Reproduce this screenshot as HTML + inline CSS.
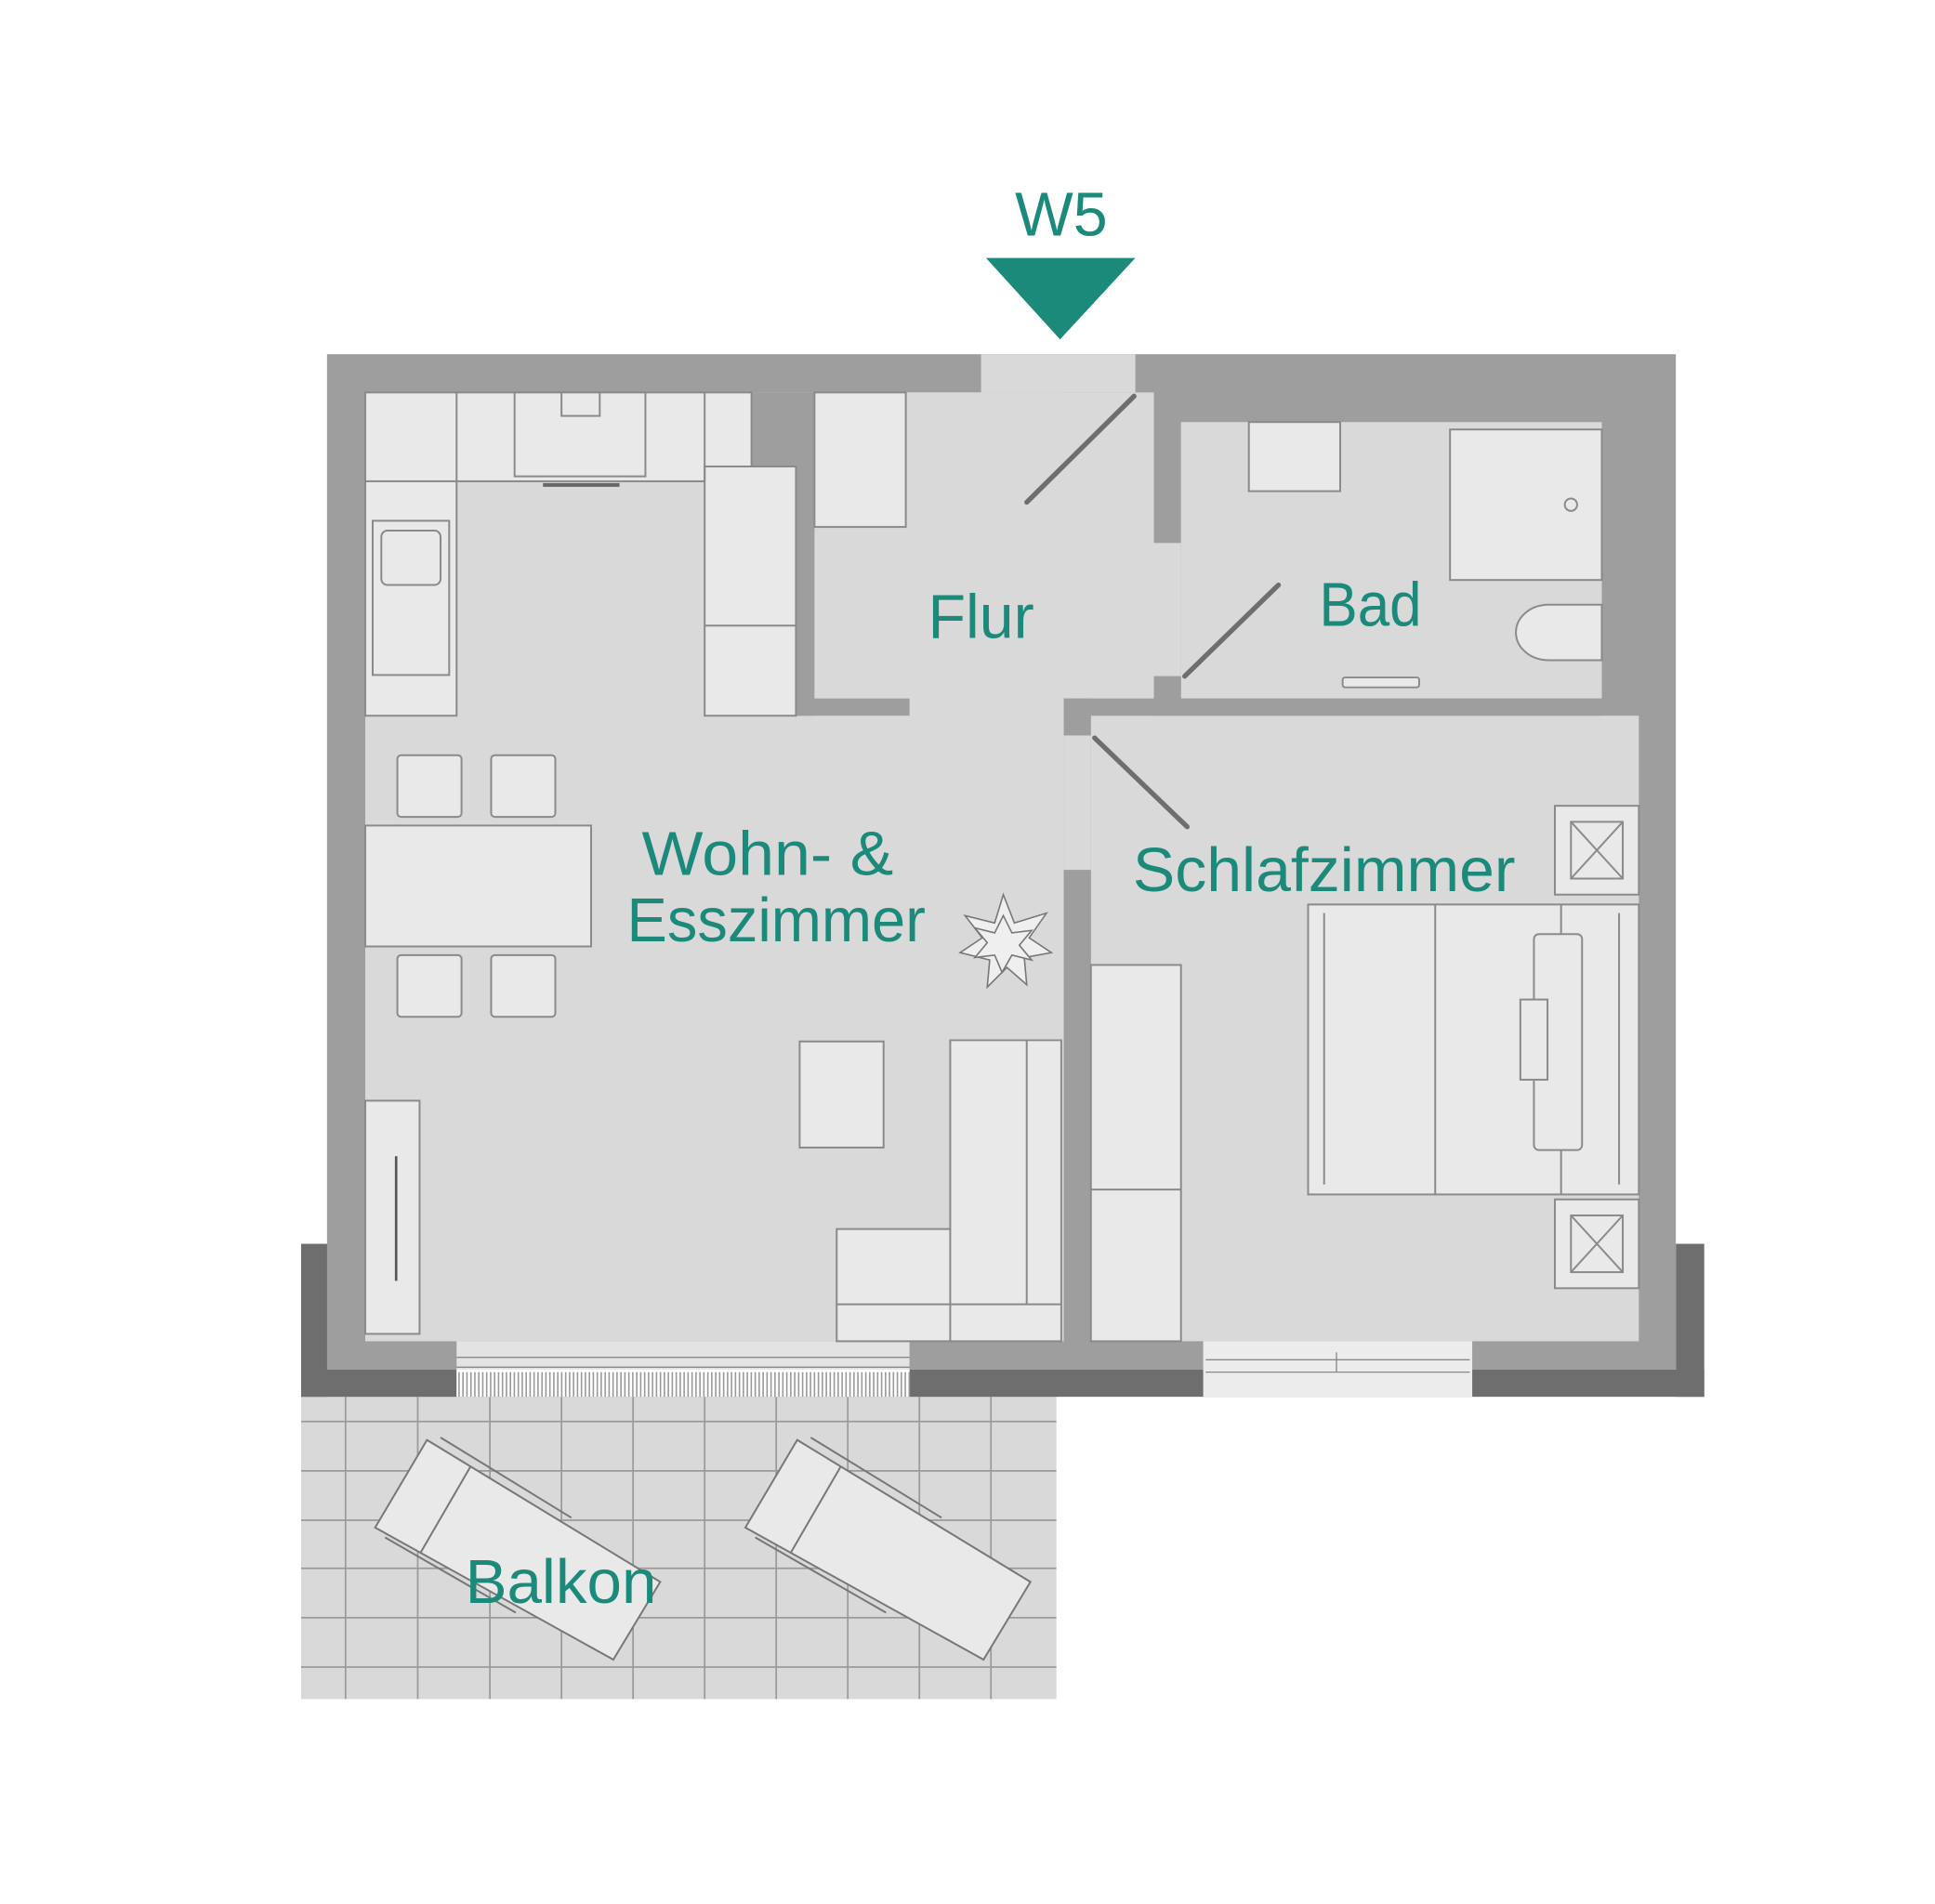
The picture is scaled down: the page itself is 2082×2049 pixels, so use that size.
<!DOCTYPE html>
<html><head><meta charset="utf-8"><style>
html,body{margin:0;padding:0;background:#fff;}
svg{display:block;}
text{font-family:"Liberation Sans","DejaVu Sans",sans-serif;fill:#1b8a7a;}
</style></head><body>
<svg width="2082" height="2049" viewBox="0 0 1568 1543" xmlns="http://www.w3.org/2000/svg">
<rect width="1568" height="1543" fill="#fff"/>
<!-- balcony -->
<rect x="244" y="1110" width="612" height="267" fill="#d9d9d9"/>
<g stroke="#9a9a9a" stroke-width="1.3">
<line x1="280" y1="1132" x2="280" y2="1377"/><line x1="338.5" y1="1132" x2="338.5" y2="1377"/>
<line x1="397" y1="1132" x2="397" y2="1377"/><line x1="455" y1="1132" x2="455" y2="1377"/>
<line x1="513" y1="1132" x2="513" y2="1377"/><line x1="571" y1="1132" x2="571" y2="1377"/>
<line x1="629" y1="1132" x2="629" y2="1377"/><line x1="687" y1="1132" x2="687" y2="1377"/>
<line x1="745" y1="1132" x2="745" y2="1377"/><line x1="803" y1="1132" x2="803" y2="1377"/>
<line x1="244" y1="1152" x2="856" y2="1152"/><line x1="244" y1="1192" x2="856" y2="1192"/>
<line x1="244" y1="1232" x2="856" y2="1232"/><line x1="244" y1="1271" x2="856" y2="1271"/>
<line x1="244" y1="1311" x2="856" y2="1311"/><line x1="244" y1="1351" x2="856" y2="1351"/>
</g>
<!-- loungers -->
<g fill="#e9e9e9" stroke="#777" stroke-width="1.5">
<polygon points="346,1167 535,1282 497,1345 304,1238"/>
<line x1="381" y1="1189" x2="341" y2="1258"/>
<line x1="357" y1="1165" x2="463" y2="1230"/>
<line x1="312" y1="1246" x2="418" y2="1307"/>
<polygon points="646,1167 835,1282 797,1345 604,1238"/>
<line x1="681" y1="1189" x2="641" y2="1258"/>
<line x1="657" y1="1165" x2="763" y2="1230"/>
<line x1="612" y1="1246" x2="718" y2="1307"/>
</g>
<!-- dark outer strips -->
<rect x="244" y="1008" width="22" height="124" fill="#6e6e6e"/>
<rect x="1358" y="1008" width="23" height="124" fill="#6e6e6e"/>
<rect x="244" y="1110" width="1137" height="22" fill="#6e6e6e"/>
<!-- main walls -->
<rect x="265" y="287" width="1093" height="823" fill="#9e9e9e"/>
<!-- floors -->
<g fill="#d9d9d9">
<rect x="296" y="318" width="566" height="769"/>
<rect x="660" y="318" width="275" height="262"/>
<rect x="795" y="287" width="125" height="31"/>
<rect x="957" y="342" width="341" height="224"/>
<rect x="935" y="440" width="22" height="108"/>
<rect x="862" y="580" width="22" height="125"/>
<rect x="884" y="580" width="444" height="507"/>
<rect x="884" y="596" width="1" height="1"/>
</g>
<!-- interior walls -->
<g fill="#9e9e9e">
<rect x="609" y="318" width="36" height="60"/>
<rect x="645" y="318" width="15" height="262"/>
<rect x="645" y="566" width="92" height="14"/>
<rect x="862" y="566" width="436" height="14"/>
<rect x="862" y="566" width="22" height="30"/>
<rect x="935" y="548" width="22" height="18"/>
<rect x="862" y="705" width="22" height="382"/>
</g>
<!-- windows -->
<rect x="370" y="1087" width="367" height="45" fill="#e3e3e3"/>
<rect x="370" y="1110" width="367" height="22" fill="#fff"/>
<g stroke="#888" stroke-width="1">
<line x1="370" y1="1100" x2="737" y2="1100"/><line x1="370" y1="1108" x2="737" y2="1108"/>
</g>
<g id="hatch" stroke="#999" stroke-width="1.2"></g>
<rect x="975" y="1087" width="218" height="45" fill="#ececec"/>
<g stroke="#888" stroke-width="1">
<line x1="977" y1="1102" x2="1191" y2="1102"/><line x1="977" y1="1112" x2="1191" y2="1112"/>
<line x1="1083" y1="1096" x2="1083" y2="1112"/>
</g>
<!-- doors -->
<g stroke="#6e6e6e" stroke-width="4" stroke-linecap="round">
<line x1="832" y1="407" x2="919" y2="321"/>
<line x1="960" y1="548" x2="1036" y2="474"/>
<line x1="887" y1="598" x2="962" y2="670"/>
</g>
<!-- furniture -->
<g fill="#e9e9e9" stroke="#8a8a8a" stroke-width="1.5">
<rect x="296" y="318" width="313" height="72"/>
<rect x="296" y="390" width="74" height="190"/>
<rect x="571" y="378" width="74" height="202"/>
<line x1="571" y1="507" x2="645" y2="507"/>
<line x1="370" y1="318" x2="370" y2="390"/>
<line x1="571" y1="318" x2="571" y2="390"/>
<rect x="417" y="318" width="106" height="68"/>
<rect x="455" y="318" width="31" height="19"/>
<rect x="302" y="422" width="62" height="125"/>
<rect x="309" y="430" width="48" height="44" rx="5"/>
<rect x="660" y="318" width="74" height="109"/>
<rect x="1012" y="342" width="74" height="56"/>
<rect x="1175" y="348" width="123" height="122"/>
<circle cx="1273" cy="409" r="5"/>
<path d="M1298,490 H1255 A26,22 0 0 0 1255,535 H1298 Z"/>
<rect x="1088" y="549" width="62" height="8" rx="2"/>
<rect x="296" y="669" width="183" height="98"/>
<rect x="322" y="612" width="52" height="50" rx="3"/>
<rect x="398" y="612" width="52" height="50" rx="3"/>
<rect x="322" y="774" width="52" height="50" rx="3"/>
<rect x="398" y="774" width="52" height="50" rx="3"/>
<rect x="296" y="892" width="44" height="189"/>
<rect x="648" y="844" width="68" height="86"/>
<path d="M770,843 H860 V1087 H678 V996 H770 Z"/>
<line x1="770" y1="996" x2="770" y2="1087"/>
<line x1="832" y1="843" x2="832" y2="1057"/>
<line x1="678" y1="1057" x2="860" y2="1057"/>
<rect x="884" y="782" width="73" height="305"/>
<line x1="884" y1="964" x2="957" y2="964"/>
<rect x="1060" y="733" width="268" height="235"/>
<line x1="1163" y1="733" x2="1163" y2="968"/>
<line x1="1265" y1="733" x2="1265" y2="968"/>
<line x1="1073" y1="740" x2="1073" y2="960"/>
<line x1="1312" y1="740" x2="1312" y2="960"/>
<rect x="1243" y="757" width="39" height="175" rx="4"/>
<rect x="1232" y="810" width="22" height="65"/>
<rect x="1260" y="653" width="68" height="72"/>
<rect x="1273" y="666" width="42" height="46"/>
<path d="M1273,666 L1315,712 M1315,666 L1273,712"/>
<rect x="1260" y="972" width="68" height="72"/>
<rect x="1273" y="985" width="42" height="46"/>
<path d="M1273,985 L1315,1031 M1315,985 L1273,1031"/>
</g>
<line x1="321" y1="937" x2="321" y2="1038" stroke="#555" stroke-width="2"/>
<line x1="440" y1="393" x2="502" y2="393" stroke="#666" stroke-width="3"/>
<!-- plant -->
<g stroke="#777" stroke-width="1.2" fill="#efefef">
<polygon points="813,725 822,748 848,740 834,760 852,772 830,776 832,798 816,784 800,800 802,778 778,772 796,760 782,742 806,748"/>
<polygon points="813,742 820,756 836,754 826,766 836,778 820,774 812,788 806,774 790,776 800,764 790,752 806,756"/>
</g>
<!-- labels -->
<text x="860" y="191" font-size="50" text-anchor="middle">W5</text>
<polygon points="799,209 920,209 859,275" fill="#1b8a7a"/>
<text x="752" y="517" font-size="50" textLength="86" lengthAdjust="spacingAndGlyphs">Flur</text>
<text x="1069" y="507" font-size="50" textLength="83" lengthAdjust="spacingAndGlyphs">Bad</text>
<text x="520" y="709" font-size="50" textLength="204" lengthAdjust="spacingAndGlyphs">Wohn- &amp;</text>
<text x="508" y="763" font-size="50" textLength="242" lengthAdjust="spacingAndGlyphs">Esszimmer</text>
<text x="918" y="722" font-size="50" textLength="310" lengthAdjust="spacingAndGlyphs">Schlafzimmer</text>
<text x="377" y="1299" font-size="50" textLength="155" lengthAdjust="spacingAndGlyphs">Balkon</text>
</svg>
<script>
(function(){var g=document.getElementById('hatch');var s='';for(var x=372;x<737;x+=3.2){s+='<line x1="'+x+'" y1="1112" x2="'+x+'" y2="1132"/>';}g.innerHTML=s;})();
</script>
</body></html>
